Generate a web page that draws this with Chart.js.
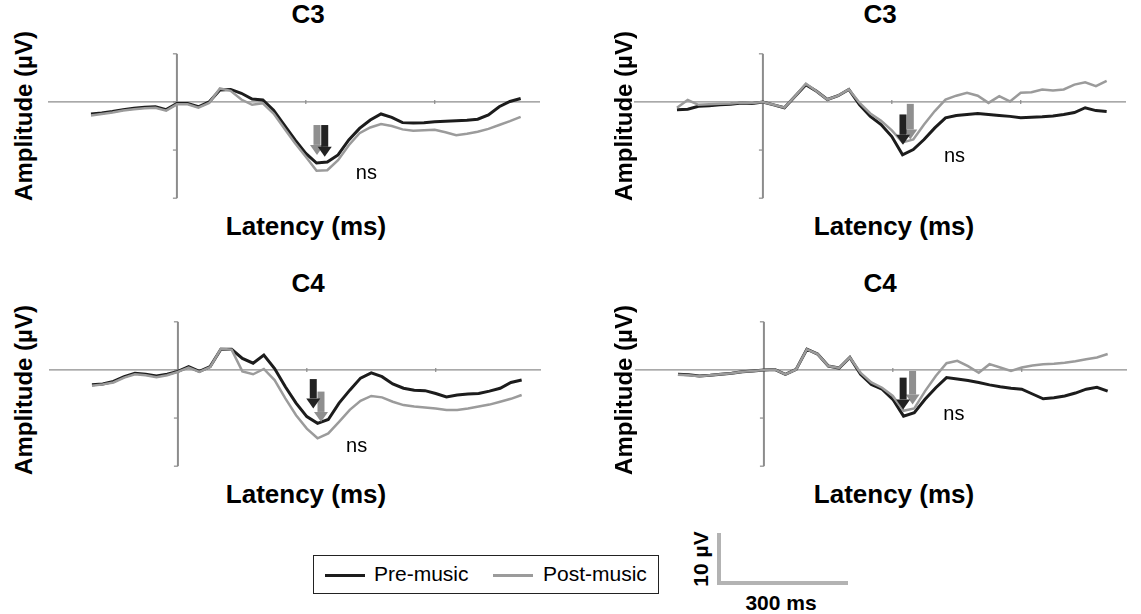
<!DOCTYPE html>
<html>
<head>
<meta charset="utf-8">
<script src="https://cdn.jsdelivr.net/npm/chart.js@4.4.1/dist/chart.umd.min.js"></script>
<style>
  body { margin: 0; background: #fff; width: 1141px; height: 614px; position: relative; overflow: hidden;
         font-family: "Liberation Sans", Arial, sans-serif; color: #000; }
  .panel { position: absolute; width: 492px; height: 154px; }
  .lbl { position: absolute; font-weight: bold; font-size: 26px; white-space: nowrap; transform: translate(-50%, -50%); }
  .rot { font-size: 24px; transform: translate(-50%, -50%) rotate(-90deg); }
  #legend { position: absolute; left: 313px; top: 555px; width: 344px; height: 37px; border: 1px solid #222; font-size: 21px; }
  .swatch { position: absolute; top: 18px; width: 40px; height: 3px; }
  .legtext { position: absolute; top: 6px; }
  #scalebar { position: absolute; left: 717px; top: 533px; width: 127px; height: 48px;
              border-left: 4px solid #b3b3b3; border-bottom: 4px solid #b3b3b3; }
</style>
</head>
<body>
<div class="panel" style="left:48px;top:49px"><canvas id="c3Left" width="492" height="154"></canvas></div>
<div class="panel" style="left:634px;top:49px"><canvas id="c3Right" width="492" height="154"></canvas></div>
<div class="panel" style="left:49px;top:317px"><canvas id="c4Left" width="492" height="154"></canvas></div>
<div class="panel" style="left:635px;top:317px"><canvas id="c4Right" width="492" height="154"></canvas></div>

<div class="lbl" style="left:308px;top:14px">C3</div>
<div class="lbl" style="left:880px;top:14px">C3</div>
<div class="lbl" style="left:308px;top:283px">C4</div>
<div class="lbl" style="left:880px;top:283px">C4</div>
<div class="lbl" style="left:306px;top:226px">Latency (ms)</div>
<div class="lbl" style="left:894px;top:226px">Latency (ms)</div>
<div class="lbl" style="left:306px;top:494px">Latency (ms)</div>
<div class="lbl" style="left:894px;top:494px">Latency (ms)</div>
<div class="lbl rot" style="left:24px;top:116px">Amplitude (µV)</div>
<div class="lbl rot" style="left:624px;top:116px">Amplitude (µV)</div>
<div class="lbl rot" style="left:24px;top:390px">Amplitude (µV)</div>
<div class="lbl rot" style="left:624px;top:390px">Amplitude (µV)</div>

<div id="legend">
  <div class="swatch" style="left:11px;background:#1c1c1c"></div>
  <div class="legtext" style="left:60px">Pre-music</div>
  <div class="swatch" style="left:179px;background:#9b9b9b"></div>
  <div class="legtext" style="left:229px">Post-music</div>
</div>
<div id="scalebar"></div>
<div class="lbl rot" style="left:701px;top:559px;font-size:21px">10 µV</div>
<div class="lbl" style="left:781px;top:603px;font-size:21px">300 ms</div>

<script>
// latency samples (ms) shared by every trace
const latencyMs = [-200, -175, -150, -125, -100, -75, -50, -25, 0, 25, 50, 75, 100, 125, 150, 175, 200,
  225, 250, 275, 300, 325, 350, 375, 400, 425, 450, 475, 500, 525, 550, 575, 600, 625, 650, 675, 700,
  725, 750, 775, 800];

// amplitudes (µV)
const c3LeftPre = [-2.5, -2.3, -2.0, -1.6, -1.3, -1.1, -1.0, -1.6, -0.3, -0.3, -1.0, 0.0, 2.5, 2.6, 1.8, 0.6, 0.4,
  -1.7, -4.8, -7.9, -10.7, -12.7, -12.5, -11.0, -7.9, -5.5, -3.75, -2.5, -3.2, -4.3, -4.4, -4.3, -4.1, -4.0, -3.9, -3.8, -3.6,
  -2.7, -1.0, 0.1, 0.7];
const c3LeftPost = [-2.8, -2.5, -2.2, -1.8, -1.5, -1.3, -1.2, -1.8, -0.5, -0.5, -1.2, -0.2, 2.8, 2.3, 0.5, -0.6, -0.3,
  -2.4, -5.5, -8.6, -11.4, -14.3, -14.2, -12.1, -9.0, -6.5, -5.3, -4.6, -5.0, -5.7, -6.0, -5.9, -5.8, -6.3, -6.9, -6.6, -6.2,
  -5.6, -4.8, -4.0, -3.1];
const c3RightPre = [-1.6, -1.5, -0.9, -0.8, -0.6, -0.5, -0.2, -0.3, 0.0, -0.6, -1.2, 1.2, 3.6, 2.2, 0.5, 1.3, 2.6,
  -0.6, -3.0, -4.7, -7.2, -11.0, -9.9, -7.8, -5.4, -3.3, -2.8, -2.6, -2.4, -2.6, -2.8, -3.0, -3.3, -3.2, -3.1, -2.9, -2.6,
  -2.2, -1.2, -1.8, -2.0];
const c3RightPost = [-1.2, 0.4, -0.6, -0.5, -0.4, -0.3, -0.1, -0.2, 0.0, -0.6, -1.2, 1.2, 3.8, 2.2, 0.5, 1.3, 2.6,
  -0.2, -2.4, -3.9, -5.9, -8.4, -7.8, -4.7, -1.9, 0.5, 1.3, 1.9, 1.3, -0.2, 1.2, 0.1, 1.9, 2.0, 2.6, 2.4, 2.6,
  3.6, 4.1, 3.3, 4.4];
const c4LeftPre = [-3.1, -2.9, -2.4, -1.4, -0.7, -0.9, -1.25, -0.9, -0.3, 0.7, -0.3, 0.7, 4.3, 4.3, 2.4, 1.4, 3.1,
  0.3, -3.5, -6.9, -9.7, -11.1, -10.3, -6.9, -4.2, -1.7, -0.6, -1.4, -2.9, -3.8, -4.2, -4.3, -4.9, -5.6, -5.2, -5.0, -4.9,
  -4.4, -3.8, -2.6, -2.1];
const c4LeftPost = [-3.3, -3.0, -2.6, -1.6, -0.9, -1.1, -1.5, -1.1, -0.4, 0.5, -0.4, 0.6, 4.4, 4.2, -0.3, -0.9, 0.2,
  -2.1, -5.9, -9.4, -12.2, -14.2, -13.2, -10.8, -8.3, -6.4, -5.4, -5.7, -6.6, -7.3, -7.6, -7.8, -8.0, -8.3, -8.3, -8.0, -7.6,
  -7.2, -6.6, -6.0, -5.2];
const c4RightPre = [-0.9, -1.0, -1.25, -1.1, -0.9, -0.7, -0.4, -0.2, 0.0, 0.1, -0.9, 0.1, 4.3, 3.3, 0.8, 0.4, 2.6,
  -0.9, -3.0, -4.0, -6.1, -9.6, -8.9, -6.1, -3.7, -1.6, -1.9, -2.2, -2.6, -3.1, -3.5, -3.8, -4.0, -5.0, -6.0, -5.8, -5.4,
  -4.8, -4.0, -3.6, -4.4];
const c4RightPost = [-1.0, -1.1, -1.3, -1.1, -0.9, -0.7, -0.4, -0.2, 0.0, 0.1, -0.9, 0.1, 4.3, 3.3, 0.8, 0.4, 2.6,
  -0.6, -2.6, -3.7, -5.4, -8.5, -8.0, -4.4, -1.25, 1.4, 1.9, 0.8, -0.6, 1.2, 0.5, -0.2, 0.5, 0.9, 1.2, 1.3, 1.5,
  1.8, 2.2, 2.6, 3.3];

// axis ticks
const yTickValues = [10, 0, -10, -20];
const xTickValues = [300, 600];

// peak arrows: [latency ms, from µV, to µV]
const c3LeftArrows = { pre: [344, -4.8, -11.4], post: [326, -4.8, -11.0] };
const c3RightArrows = { pre: [326, -2.6, -8.9], post: [343, -0.4, -7.8] };
const c4LeftArrows = { pre: [315, -1.9, -8.0], post: [333, -4.5, -10.8] };
const c4RightArrows = { pre: [324, -1.6, -8.2], post: [346, -0.2, -7.2] };

// "ns" label anchors: [latency ms, µV]
const nsPositions = { c3Left: [441, -14.9], c3Right: [446, -11.3], c4Left: [416, -16.0], c4Right: [442, -9.2] };

const preColor = '#1c1c1c';
const postColor = '#9b9b9b';
const axisColor = '#8c8c8c';

function drawArrow(ctx, x, y, arrow, color) {
  const px = x.getPixelForValue(arrow[0]);
  const top = y.getPixelForValue(arrow[1]);
  const tip = y.getPixelForValue(arrow[2]);
  const headLen = 10;
  ctx.fillStyle = color;
  ctx.fillRect(px - 3.5, top, 7, tip - top - headLen);
  ctx.beginPath();
  ctx.moveTo(px - 7, tip - headLen);
  ctx.lineTo(px + 7, tip - headLen);
  ctx.lineTo(px, tip);
  ctx.closePath();
  ctx.fill();
}

const erpAxesPlugin = {
  id: 'erpAxes',
  beforeDatasetsDraw(chart, args, opts) {
    const { ctx, scales: { x, y } } = chart;
    const x0 = x.getPixelForValue(0);
    const y0 = y.getPixelForValue(0);
    ctx.save();
    ctx.strokeStyle = axisColor;
    ctx.lineWidth = 1.2;
    ctx.beginPath();
    ctx.moveTo(x.left, y0);
    ctx.lineTo(x.right, y0);
    ctx.stroke();

    ctx.lineWidth = 2;
    ctx.beginPath();
    ctx.moveTo(x0, y.getPixelForValue(10));
    ctx.lineTo(x0, y.getPixelForValue(-20));
    ctx.stroke();

    ctx.lineWidth = 1.2;
    yTickValues.forEach((v) => {
      const py = y.getPixelForValue(v);
      ctx.beginPath();
      ctx.moveTo(x0 - 4, py);
      ctx.lineTo(x0, py);
      ctx.stroke();
    });
    xTickValues.forEach((t) => {
      const px = x.getPixelForValue(t);
      ctx.beginPath();
      ctx.moveTo(px, y0 - 2);
      ctx.lineTo(px, y0 + 2);
      ctx.stroke();
    });
    ctx.restore();
  },
  afterDatasetsDraw(chart, args, opts) {
    const { ctx, scales: { x, y } } = chart;
    ctx.save();
    drawArrow(ctx, x, y, opts.arrows.post, '#8f8f8f');
    drawArrow(ctx, x, y, opts.arrows.pre, '#222');
    ctx.fillStyle = '#000';
    ctx.font = '20px "Liberation Sans", Arial, sans-serif';
    ctx.textAlign = 'center';
    ctx.textBaseline = 'middle';
    ctx.fillText('ns', x.getPixelForValue(opts.ns[0]), y.getPixelForValue(opts.ns[1]));
    ctx.restore();
  }
};

function buildErpChart(canvasId, preValues, postValues, arrows, ns) {
  const toPoints = (vals) => vals.map((v, i) => ({ x: latencyMs[i], y: v }));
  return new Chart(document.getElementById(canvasId), {
    type: 'line',
    data: {
      datasets: [
        { label: 'Post-music', data: toPoints(postValues), borderColor: postColor, borderWidth: 2.5, pointRadius: 0, tension: 0 },
        { label: 'Pre-music', data: toPoints(preValues), borderColor: preColor, borderWidth: 3, pointRadius: 0, tension: 0 }
      ]
    },
    options: {
      responsive: false,
      animation: false,
      devicePixelRatio: 1,
      layout: { padding: 0 },
      plugins: {
        legend: { display: false },
        tooltip: { enabled: false },
        erpAxes: { arrows: arrows, ns: ns }
      },
      scales: {
        x: { type: 'linear', min: -300, max: 845, display: false },
        y: { type: 'linear', min: -21, max: 11, display: false }
      }
    },
    plugins: [erpAxesPlugin]
  });
}

buildErpChart('c3Left', c3LeftPre, c3LeftPost, c3LeftArrows, nsPositions.c3Left);
buildErpChart('c3Right', c3RightPre, c3RightPost, c3RightArrows, nsPositions.c3Right);
buildErpChart('c4Left', c4LeftPre, c4LeftPost, c4LeftArrows, nsPositions.c4Left);
buildErpChart('c4Right', c4RightPre, c4RightPost, c4RightArrows, nsPositions.c4Right);
</script>
</body>
</html>
